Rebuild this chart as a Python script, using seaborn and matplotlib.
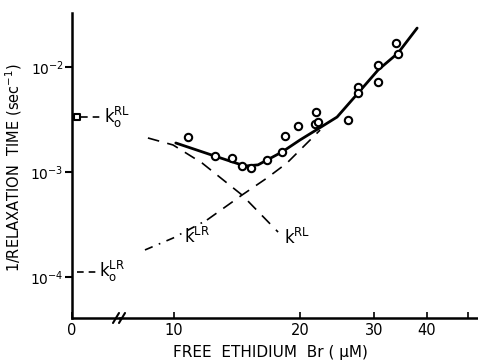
import matplotlib
matplotlib.use("Agg")
import matplotlib.pyplot as plt
import seaborn as sns

# measured points: free ethidium (uM) vs 1/relaxation time (1/s)
conc = [10.8, 12.5, 13.75, 14.5, 15.25, 16.65, 18.07, 18.37, 19.73, 21.78,
        21.66, 22.02, 25.96, 27.42, 27.42, 30.6, 30.6, 33.78, 34.14]
rate = [2.15e-3, 1.42e-3, 1.36e-3, 1.14e-3, 1.09e-3, 1.30e-3, 1.55e-3, 2.20e-3,
        2.74e-3, 3.73e-3, 2.86e-3, 2.99e-3, 3.13e-3, 6.45e-3, 5.65e-3, 1.04e-2,
        7.2e-3, 1.69e-2, 1.33e-2]

# fitted curve (sum)
fit_x = [10.1, 12.5, 14.76, 15.85, 18.07, 19.95, 22.0, 24.44, 27.42, 30.6, 34.14, 37.9]
fit_y = [1.89e-3, 1.42e-3, 1.14e-3, 1.17e-3, 1.55e-3, 2.02e-3, 2.57e-3, 3.34e-3,
         5.65e-3, 9.37e-3, 1.36e-2, 2.35e-2]

# k^RL component (falling dashed)
krl_x = [8.67, 9.95, 11.66, 14.52, 17.69]
krl_y = [2.11e-3, 1.81e-3, 1.22e-3, 6.04e-4, 2.68e-4]

# k^LR component (rising)
klr_x = [8.53, 9.95, 11.98, 14.52, 16.65, 18.58, 22.27]
klr_y = [1.81e-4, 2.35e-4, 3.49e-4, 6.04e-4, 8.77e-4, 1.22e-3, 2.51e-3]

# zero-concentration rates
k0_rl = 3.34e-3
k0_lr = 1.12e-4

sns.set_style("ticks")
plt.rcParams['font.family'] = ['DejaVu Sans']
plt.rcParams['mathtext.fontset'] = 'dejavusans'
plt.rcParams['text.color'] = 'black'
plt.rcParams['xtick.color'] = 'black'
plt.rcParams['ytick.color'] = 'black'
plt.rcParams['axes.edgecolor'] = 'black'

fig = plt.figure(figsize=(4.78, 3.63), dpi=100)
W, H = 478, 363
x0, xb, x1 = 72, 120, 478
ytop, ybot = 13, 318
ax0 = fig.add_axes([x0 / W, 1 - ybot / H, (xb - x0) / W, (ybot - ytop) / H])
ax1 = fig.add_axes([xb / W, 1 - ybot / H, (x1 - xb) / W, (ybot - ytop) / H], sharey=ax0)

ylo, yhi = 4.07e-5, 3.27e-2
for ax in (ax0, ax1):
    ax.set_yscale('log')
    ax.set_ylim(ylo, yhi)
    ax.patch.set_visible(False)
    for s in ['top', 'right']:
        ax.spines[s].set_visible(False)
    ax.spines['bottom'].set_linewidth(1.8)
    ax.spines['left'].set_linewidth(1.8)
    ax.minorticks_off()

# left part (zero concentration)
ax0.set_xlim(0, 5)
ax0.set_xticks([0])
ax0.set_xticklabels(['0'])
ax0.set_yticks([1e-4, 1e-3, 1e-2])
ax0.set_yticklabels([r'$10^{-4}$', r'$10^{-3}$', r'$10^{-2}$'])
ax0.tick_params(axis='y', direction='out', length=5, width=1.5, labelsize=10, pad=1)
ax0.tick_params(axis='x', direction='in', length=4, width=1.2, labelsize=10.5)
ax0.yaxis.set_minor_locator(matplotlib.ticker.NullLocator())

sns.scatterplot(x=[0.55], y=[k0_rl], marker='s', s=22, facecolor='white',
                edgecolor='black', linewidth=1.5, ax=ax0, zorder=5, clip_on=False)
sns.lineplot(x=[0.9, 3.2], y=[k0_rl, k0_rl], color='black', linewidth=1.2,
             linestyle=(0, (4, 3)), ax=ax0)
sns.lineplot(x=[0.5, 2.6], y=[k0_lr, k0_lr], color='black', linewidth=1.2,
             linestyle=(0, (4, 3)), ax=ax0)
ax0.text(3.3, k0_rl, r'$\mathrm{k}_{\mathrm{o}}^{\mathrm{RL}}$', fontsize=12,
         va='center', ha='left', zorder=10)
ax0.text(2.8, k0_lr, r'$\mathrm{k}_{\mathrm{o}}^{\mathrm{LR}}$', fontsize=12,
         va='center', ha='left', zorder=10)

# right part (log concentration)
ax1.set_xscale('log')
ax1.set_xlim(7.44, 52.9)
ax1.spines['left'].set_visible(False)
ax1.set_xticks([10, 20, 30, 40, 50])
ax1.set_xticklabels(['10', '20', '30', '40', ''])
ax1.xaxis.set_minor_locator(matplotlib.ticker.NullLocator())
ax1.tick_params(axis='x', direction='in', length=4, width=1.2, labelsize=10.5)
ax1.tick_params(axis='y', left=False, labelleft=False)

sns.lineplot(x=fit_x, y=fit_y, color='black', linewidth=2.0, sort=False, ax=ax1)
sns.lineplot(x=krl_x, y=krl_y, color='black', linewidth=1.2, sort=False,
             linestyle=(0, (7, 5)), ax=ax1)
sns.lineplot(x=klr_x[:3], y=klr_y[:3], color='black', linewidth=1.2, sort=False,
             linestyle=(0, (5, 4, 1, 4)), ax=ax1)
sns.lineplot(x=klr_x[2:], y=klr_y[2:], color='black', linewidth=1.2, sort=False,
             linestyle=(0, (7, 5)), ax=ax1)
sns.scatterplot(x=conc, y=rate, marker='o', s=28, facecolor='white',
                edgecolor='black', linewidth=1.5, ax=ax1, zorder=5)

ax1.text(11.35, 2.4e-4, r'$\mathrm{k}^{\mathrm{LR}}$', fontsize=12, ha='center', va='center')
ax1.text(19.6, 2.35e-4, r'$\mathrm{k}^{\mathrm{RL}}$', fontsize=12, ha='center', va='center')

for ax in (ax0, ax1):
    ax.set_xlabel('')
    ax.set_ylabel('')
    if ax.get_legend():
        ax.get_legend().remove()

# axis break marks
for dx in (-4, 2):
    fig.add_artist(plt.Line2D([(xb - 3 + dx) / W, (xb + 3 + dx) / W],
                              [1 - (ybot + 5) / H, 1 - (ybot - 5) / H],
                              color='black', linewidth=1.5))

fig.text(270 / W, 1 - 352 / H, 'FREE  ETHIDIUM  Br ( \u03bcM)', fontsize=11,
         ha='center', va='center')
fig.text(14 / W, 1 - 168 / H, '1/RELAXATION  TIME (sec$^{-1}$)', fontsize=10.5,
         rotation=90, ha='center', va='center')

fig.savefig('out.png', dpi=100, facecolor='white')
